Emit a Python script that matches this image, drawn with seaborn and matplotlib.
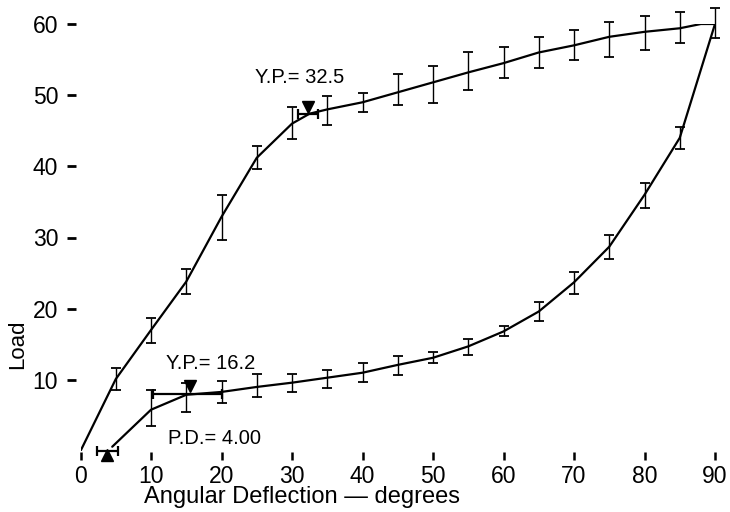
import numpy as np
import pandas as pd
import matplotlib
matplotlib.use("Agg")
import matplotlib.pyplot as plt
import seaborn as sns

# loading curve (upper)
load_x = [0, 5, 10, 15, 20, 25, 30, 32.5, 35, 40, 45, 50, 55, 60, 65, 70, 75, 80, 85, 88, 90]
load_y = [0, 10.1, 17, 23.8, 32.9, 41.2, 46, 47.4, 48, 49, 50.4, 51.8, 53.2, 54.5, 56, 57, 58.2, 58.9, 59.4, 60, 60]

# error bars on loading curve
load_bar_x = [5, 10, 15, 20, 25, 30, 35, 40, 45, 50, 55, 60, 65, 70, 75, 80, 85, 90]
load_bar_lo = [8.6, 15.2, 22, 29.7, 39.6, 43.8, 45.8, 47.6, 48.6, 48.9, 50.7, 52.4, 53.8, 54.9, 55.4, 56.3, 57.3, 58]
load_bar_hi = [11.7, 18.7, 25.6, 36, 42.8, 48.3, 49.9, 50.3, 53, 54.1, 56, 56.8, 58.2, 59.2, 60.3, 61.1, 61.7, 62.3]

# unloading curve (lower)
unload_x = [90, 85, 80, 75, 70, 65, 60, 55, 50, 45, 40, 35, 30, 25, 20, 15, 10, 4.5]
unload_y = [60, 44, 36, 28.7, 23.7, 19.6, 16.8, 14.7, 13.1, 12.1, 11, 10.3, 9.6, 9.0, 8.3, 7.9, 5.8, 0.6]

unload_bar_x = [85, 80, 75, 70, 65, 60, 55, 50, 45, 40, 35, 30, 25, 20, 15, 10]
unload_bar_lo = [42.5, 34.1, 27, 22, 18.3, 16.1, 13.5, 12.3, 10.7, 9.7, 8.9, 8.3, 7.6, 6.8, 5.5, 3.5]
unload_bar_hi = [45.5, 37.6, 30.4, 25.2, 21, 17.5, 15.8, 13.9, 13.4, 12.3, 11.4, 10.8, 10.8, 9.9, 9.6, 8.6]

# yield points / proportional deflection with horizontal spread
mark_x = [32.3, 15.2, 3.8]
mark_y = [47.3, 8.0, 0.0]
mark_xerr = [1.4, 4.9, 1.5]
tri_x = [32.3, 15.5, 3.8]
tri_y = [48.4, 9.2, -0.6]
tri_kind = ["v", "v", "^"]

sns.set_style("white")
plt.rcParams["font.family"] = ["Liberation Sans", "DejaVu Sans"]
for k in ["text.color", "axes.labelcolor", "xtick.color", "ytick.color"]:
    plt.rcParams[k] = "black"

fig = plt.figure(figsize=(7.3, 5.12), dpi=100)
ax = fig.add_axes([80.5 / 730, 61 / 512, 634.5 / 730, 427 / 512])

df_up = pd.DataFrame({"x": load_x, "y": load_y})
df_down = pd.DataFrame({"x": unload_x, "y": unload_y})
sns.lineplot(data=df_up, x="x", y="y", sort=False, estimator=None, color="black", lw=1.6, ax=ax)
sns.lineplot(data=df_down, x="x", y="y", sort=False, estimator=None, color="black", lw=1.6, ax=ax)

def bars(xs, lo, hi):
    lo = np.array(lo)
    hi = np.array(hi)
    mid = (lo + hi) / 2
    ax.errorbar(xs, mid, yerr=[mid - lo, hi - mid], fmt="none", ecolor="black",
                elinewidth=1.0, capsize=3.6, capthick=1.3, clip_on=False)

bars(load_bar_x, load_bar_lo, load_bar_hi)
bars(unload_bar_x, unload_bar_lo, unload_bar_hi)

ax.errorbar(mark_x, mark_y, xerr=mark_xerr, fmt="none", ecolor="black",
            elinewidth=1.6, capsize=3.6, capthick=1.6, clip_on=False)
for x, y, m in zip(tri_x, tri_y, tri_kind):
    ax.plot([x], [y], marker=m, color="black", ms=9, clip_on=False)

ax.text(24.8, 52.5, "Y.P.= 32.5", fontsize=14.5, va="center")
ax.text(12.1, 12.25, "Y.P.= 16.2", fontsize=14.5, va="center")
ax.text(12.4, 1.8, "P.D.= 4.00", fontsize=14.5, va="center")

ax.set_xlim(0, 90)
ax.set_ylim(0, 60)
ax.set_xticks(range(0, 91, 10))
ax.set_yticks(range(10, 61, 10))
for s in ax.spines.values():
    s.set_visible(False)
ax.spines["left"].set_position(("outward", 3.6))
ax.spines["bottom"].set_position(("outward", 0.8))
ax.tick_params(axis="y", direction="out", length=6.5, width=2.0, pad=6, labelsize=16.5, left=True)
ax.tick_params(axis="x", direction="out", length=6.0, width=1.8, pad=3, labelsize=16.5, bottom=True)

ax.set_xlabel("Angular Deflection — degrees", fontsize=17)
ax.set_ylabel("Load", fontsize=16)
ax.xaxis.set_label_coords((302 - 80.5) / 634.5, -0.083)
ax.yaxis.set_label_coords(-0.083, 0.25)

fig.savefig("out.png", dpi=100)
